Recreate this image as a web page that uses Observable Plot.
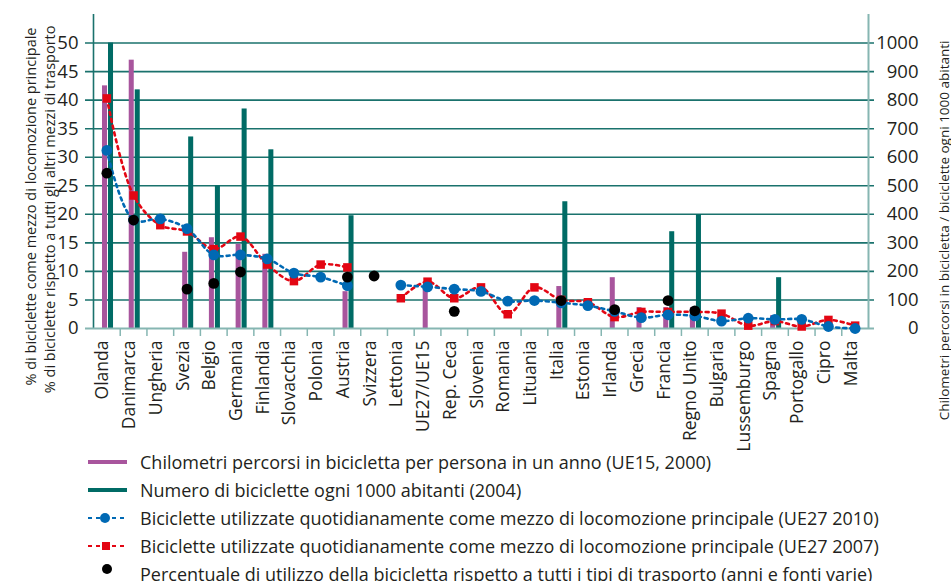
<!DOCTYPE html>
<html><head><meta charset="utf-8">
<script src="https://cdn.jsdelivr.net/npm/d3@7"></script>
<script src="https://cdn.jsdelivr.net/npm/@observablehq/plot@0.6"></script>
<style>
body{margin:0;background:#fff;font-family:"Open Sans",sans-serif;overflow:hidden}
#chart svg{overflow:visible;display:block}
.legend{position:relative;height:133px;width:951px;}
.row{position:absolute;left:0;height:28px;display:flex;align-items:center;font-size:18px;color:#231f20;white-space:nowrap}
.row svg{flex:none}
</style></head><body><div id="chart"></div><div class="legend" id="legend"></div>
<script>
const countries = ["Olanda","Danimarca","Ungheria","Svezia","Belgio","Germania","Finlandia","Slovacchia","Polonia","Austria","Svizzera","Lettonia","UE27/UE15","Rep. Ceca","Slovenia","Romania","Lituania","Italia","Estonia","Irlanda","Grecia","Francia","Regno Unito","Bulgaria","Lussemburgo","Spagna","Portogallo","Cipro","Malta"];
// km per person per year (UE15, 2000) - right axis
const kmPerPerson = [850,940,null,267,318,295,260,null,null,129,null,null,145,null,null,null,null,147,null,178,73,73,73,null,null,45,null,null,null];
// bicycles per 1000 inhabitants (2004) - right axis
const bikesPer1000 = [1000,836,null,671,500,769,626,null,null,395,null,null,null,null,null,null,null,444,null,null,null,339,399,null,null,178,null,null,null];
// % daily main mode (UE27 2010) - left axis
const use2010 = [31.2,19.0,19.2,17.5,12.9,12.9,12.2,9.7,9.0,7.5,null,7.6,7.3,6.9,6.5,4.8,4.9,4.5,4.0,3.0,1.9,2.4,2.2,1.3,1.8,1.6,1.6,0.35,0];
// % daily main mode (UE27 2007) - left axis
const use2007 = [40.3,23.3,18.1,17.0,13.9,16.1,11.2,8.3,11.2,10.7,null,5.3,8.2,5.3,7.2,2.5,7.2,5.0,4.6,2.0,2.9,2.9,2.9,2.6,0.5,1.3,0.35,1.5,0.5];
// % share of bicycle among all transport modes
const shareAll = [27.2,19.0,null,6.9,7.9,9.9,null,null,null,9.0,9.2,null,null,3.0,null,null,null,4.9,null,3.3,null,4.9,3.1,null,null,null,null,null,null];
const leftTicks = [0,5,10,15,20,25,30,35,40,45,50];
const rightTickLabels = [0,100,200,300,400,500,600,700,800,900,1000];
const legendLabels = [
  "Chilometri percorsi in bicicletta per persona in un anno (UE15, 2000)",
  "Numero di biciclette ogni 1000 abitanti (2004)",
  "Biciclette utilizzate quotidianamente come mezzo di locomozione principale (UE27 2010)",
  "Biciclette utilizzate quotidianamente come mezzo di locomozione principale (UE27 2007)",
  "Percentuale di utilizzo della bicicletta rispetto a tutti i tipi di trasporto (anni e fonti varie)"
];
const leftTitle1 = "% di biciclette come mezzo di locomozione principale";
const leftTitle2 = "% di biciclette rispetto a tutti gli altri mezzi di trasporto";
const rightTitle = "Chilometri percorsi in bicicletta / biciclette ogni 1000 abitanti";

const C = {purple:"#a8559d", green:"#006b65", blue:"#0069b4", red:"#e30613", black:"#000", grid:"#1a726d", light:"#86b6b2", text:"#231f20"};
const ratio = 20; // right axis units per left axis unit
const data = countries.map((c,i)=>({country:c, km:kmPerPerson[i], bikes:bikesPer1000[i], blue:use2010[i], red:use2007[i], black:shareAll[i]}));
const W = 951, H = 448, mL = 93, mR = 83, mT = 14, mB = 120;
const bw = (W - mL - mR) / countries.length;

const chart = Plot.plot({
  width: W, height: H, marginLeft: mL, marginRight: mR, marginTop: mT, marginBottom: mB,
  style: {fontFamily: "Open Sans, sans-serif", overflow: "visible", background: "white"},
  x: {type: "band", domain: countries, padding: 0, round: false, axis: null},
  y: {domain: [0, 55], axis: null},
  marks: [
    Plot.ruleY(leftTicks.slice(1), {stroke: C.grid, strokeWidth: 1.6, insetLeft: -8, insetRight: -6}),
    Plot.ruleX(countries.slice(1), {dx: -bw/2, insetTop: H - mT - mB, insetBottom: -8, stroke: C.light, strokeWidth: 1.5}),
    Plot.ruleX([countries[0]], {dx: -bw/2, stroke: C.grid, strokeWidth: 1.6}),
    Plot.ruleX([countries[countries.length-1]], {dx: bw/2, stroke: C.light, strokeWidth: 2}),
    Plot.barY(data.filter(d => d.km != null), {x: "country", y: d => d.km / ratio, fill: C.purple, insetLeft: 9, insetRight: 12.7}),
    Plot.barY(data.filter(d => d.bikes != null), {x: "country", y: d => d.bikes / ratio, fill: C.green, insetLeft: 15, insetRight: 6.7}),
    Plot.ruleY([0], {stroke: C.light, strokeWidth: 2.2, insetLeft: -8, insetRight: -6}),
    Plot.line(data, {x: "country", y: "red", stroke: C.red, strokeWidth: 2.6, strokeDasharray: "3,4", curve: "catmull-rom"}),
    Plot.line(data, {x: "country", y: "blue", stroke: C.blue, strokeWidth: 2.6, strokeDasharray: "3,4", curve: "catmull-rom"}),
    Plot.dot(data, {x: "country", y: "red", symbol: "square", fill: C.red, r: 4.8}),
    Plot.dot(data, {x: "country", y: "blue", fill: C.blue, r: 5.4}),
    Plot.dot(data, {x: "country", y: "black", fill: C.black, r: 5.4}),
    Plot.text(leftTicks, {y: d => d, text: d => String(d), frameAnchor: "left", textAnchor: "end", dx: -15, fontSize: 18.5, fill: C.text}),
    Plot.text(leftTicks, {y: d => d, text: (d, i) => String(rightTickLabels[i]), frameAnchor: "right", textAnchor: "end", dx: 50, fontSize: 18.5, fill: C.text}),
    Plot.text(countries, {x: d => d, text: d => d, frameAnchor: "bottom", rotate: -90, textAnchor: "end", dy: 12, dx: 1.5, fontSize: 17.5, fill: C.text}),
    Plot.text([leftTitle1], {frameAnchor: "top-left", rotate: -90, textAnchor: "end", dx: -68, dy: 13, fontSize: 14.5, fill: C.text}),
    Plot.text([leftTitle2], {frameAnchor: "top-left", rotate: -90, textAnchor: "end", dx: -49, dy: 11, fontSize: 14.5, fill: C.text}),
    Plot.text([rightTitle], {frameAnchor: "top-right", rotate: -90, textAnchor: "end", dx: 71, dy: 26, fontSize: 13.5, fill: C.text})
  ]
});
document.getElementById("chart").appendChild(chart);

// legend
const ns = "http://www.w3.org/2000/svg";
const leg = document.getElementById("legend");
legendLabels.forEach((label, i) => {
  const row = document.createElement("div");
  row.className = "row";
  row.style.top = (i * 28) + "px";
  const s = document.createElementNS(ns, "svg");
  s.setAttribute("width", 140); s.setAttribute("height", 28);
  const add = (tag, attrs) => { const e = document.createElementNS(ns, tag); for (const k in attrs) e.setAttribute(k, attrs[k]); s.appendChild(e); };
  if (i === 0) add("line", {x1: 88, x2: 127, y1: 14, y2: 14, stroke: C.purple, "stroke-width": 4});
  if (i === 1) add("line", {x1: 88, x2: 127, y1: 14, y2: 14, stroke: C.green, "stroke-width": 4});
  if (i === 2) { add("line", {x1: 88, x2: 127, y1: 14, y2: 14, stroke: C.blue, "stroke-width": 2, "stroke-dasharray": "4,4"}); add("circle", {cx: 105, cy: 14, r: 5, fill: C.blue}); }
  if (i === 3) { add("line", {x1: 88, x2: 127, y1: 14, y2: 14, stroke: C.red, "stroke-width": 2, "stroke-dasharray": "4,4"}); add("rect", {x: 102, y: 10, width: 8, height: 8, fill: C.red}); }
  if (i === 4) add("circle", {cx: 107, cy: 9, r: 5, fill: C.black});
  row.appendChild(s);
  const t = document.createElement("span");
  t.textContent = label;
  row.appendChild(t);
  leg.appendChild(row);
});
</script>
</body></html>
